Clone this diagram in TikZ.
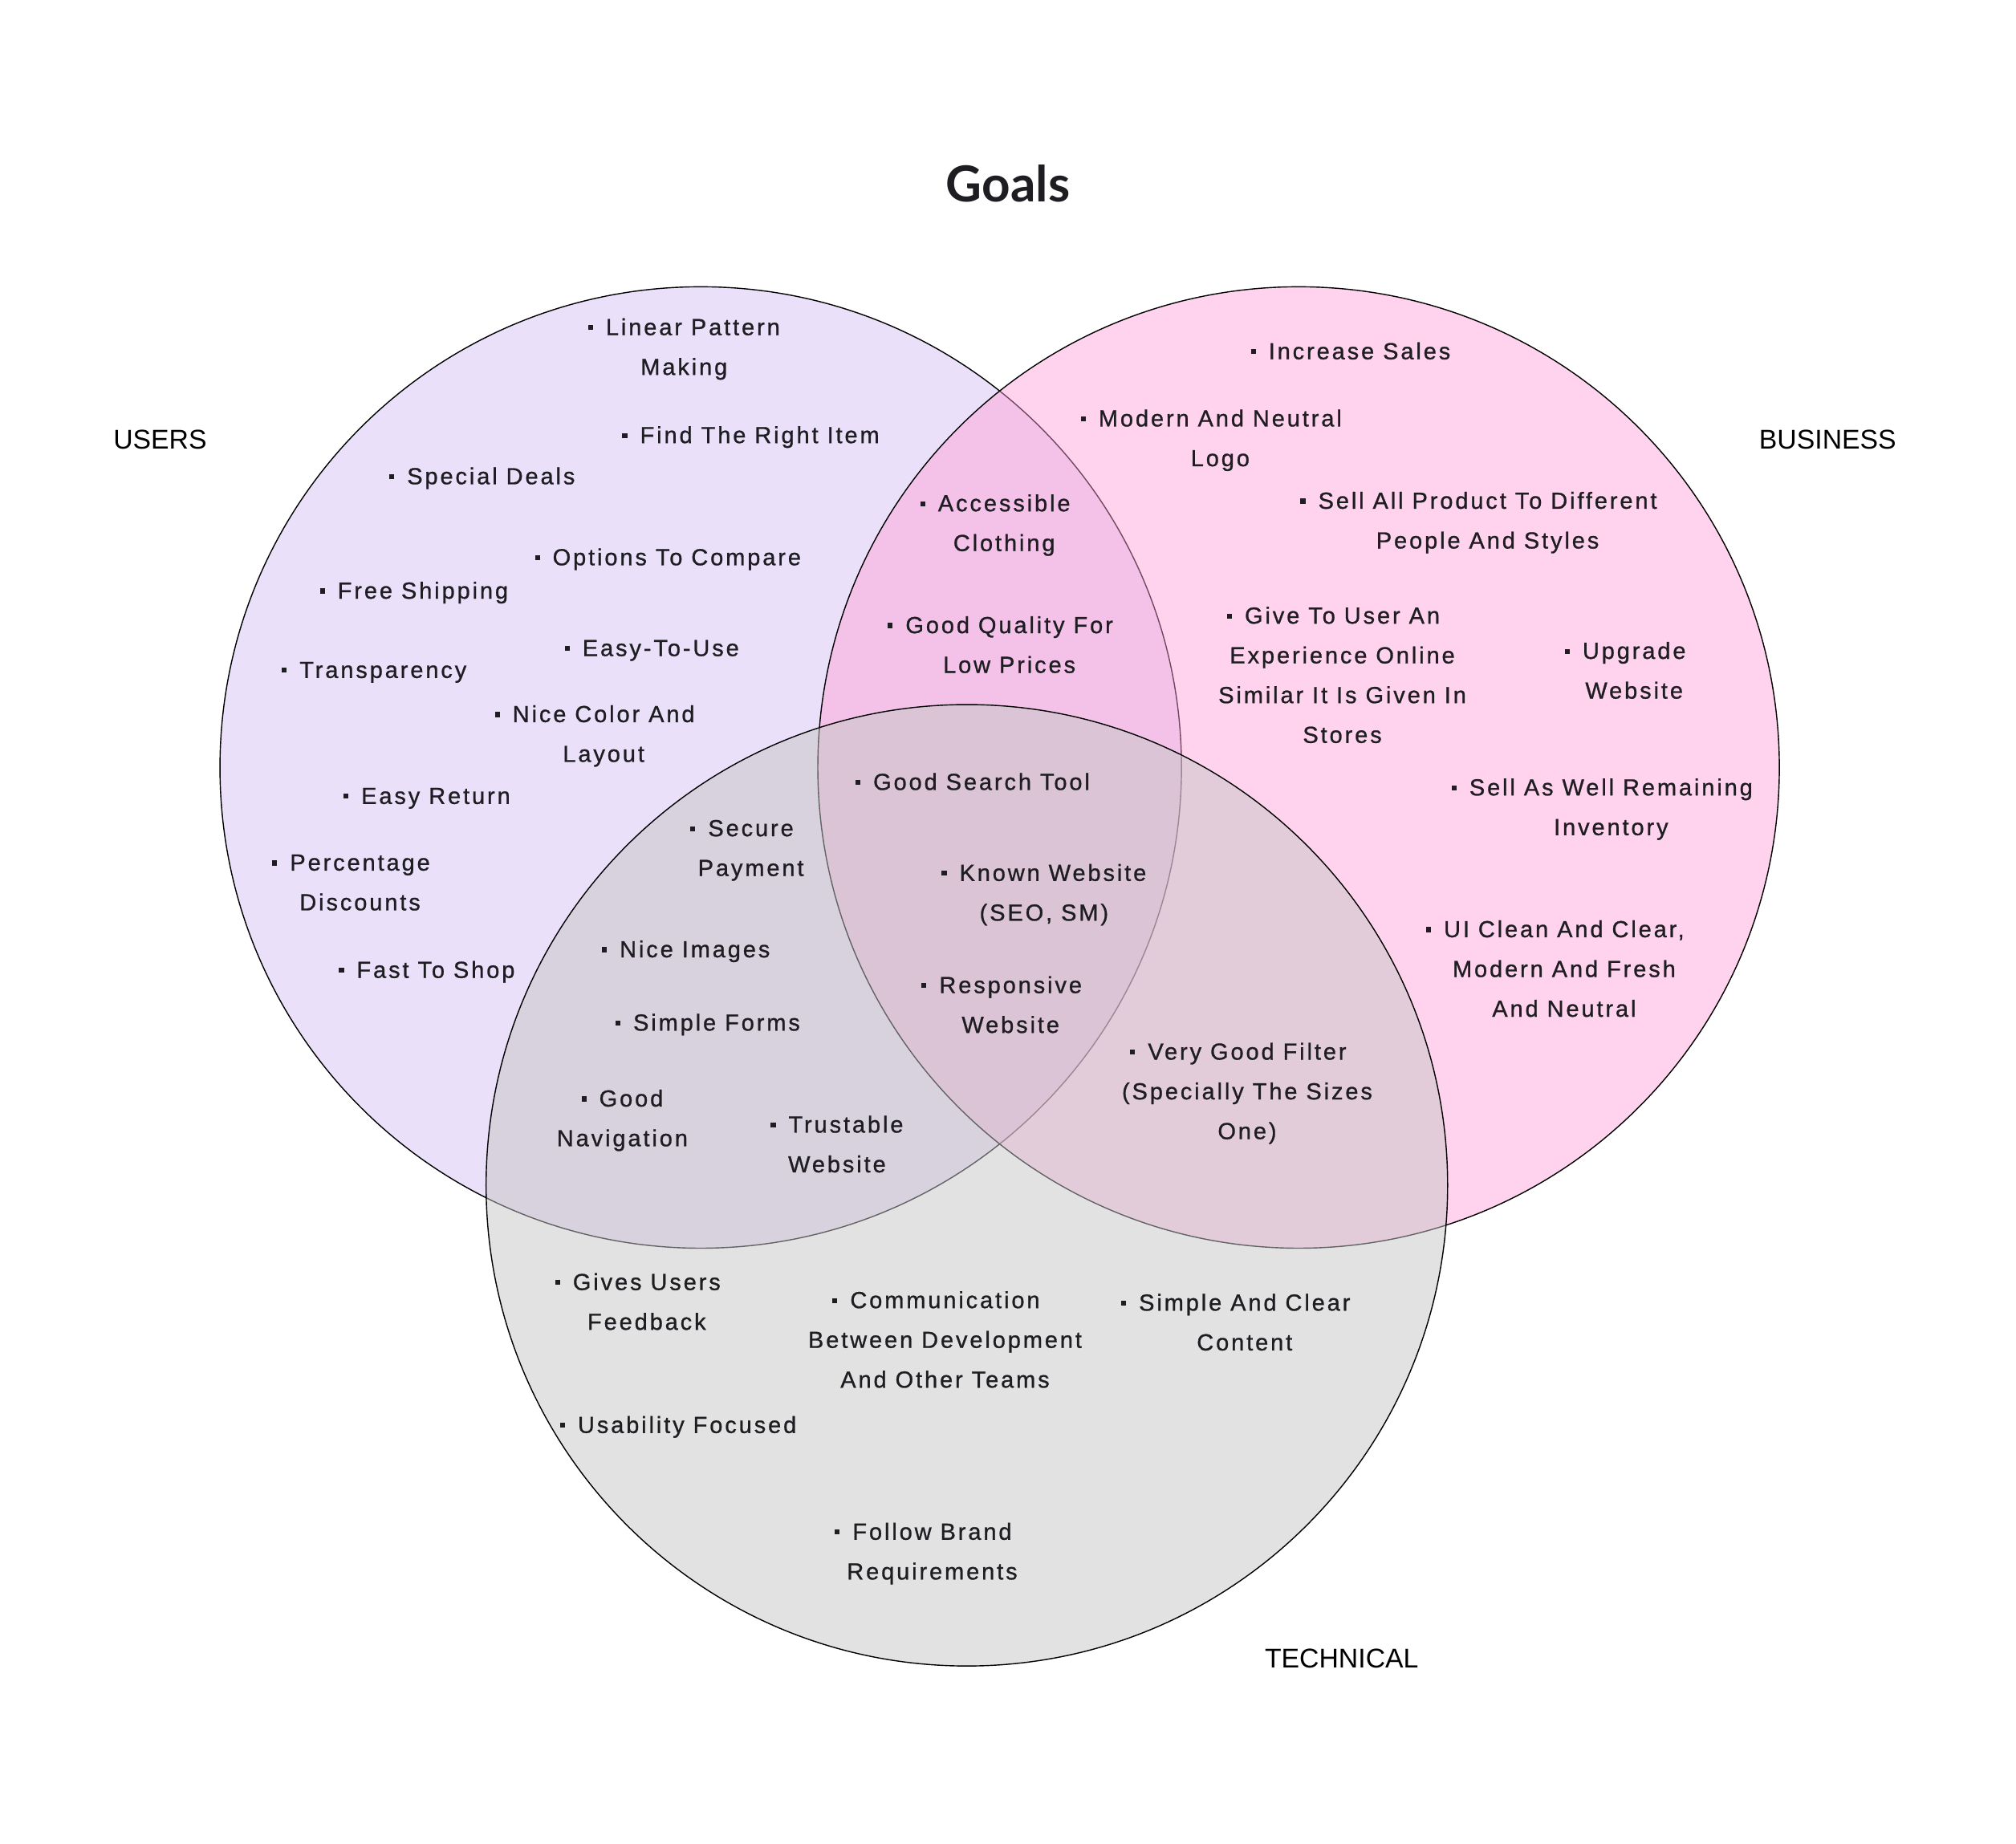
\documentclass[tikz,border=0pt]{standalone}
\usepackage{fontspec}
\setmainfont{Liberation Sans}
\newfontfamily\goalfont[LetterSpace=10,FakeBold=0.9]{Liberation Sans}
\newfontfamily\titlefont{Lato}
\definecolor{usersfill}{HTML}{EBE0FA}
\definecolor{businessfill}{HTML}{FF9ED6}
\definecolor{techfill}{HTML}{C6C6C6}
\definecolor{ink}{HTML}{1E1D22}
\newcommand{\bsq}{\rule[0.22em]{2.2pt}{2.2pt}\hspace{0.55em}}
\newcommand{\hbsq}{\llap{\bsq}}

\begin{document}
\begin{tikzpicture}[
                x=0.02cm, y=-0.02cm,
                set/.style={circle,draw=black,line width=0.5pt,minimum size=14.96cm,inner sep=0pt},
                goal/.style={align=center,text=ink,inner sep=0pt,font=\goalfont\fontsize{10.3}{17.6}\selectfont},
                setname/.style={text=black,inner sep=0pt,font=\fontsize{12}{14}\selectfont}
            ]

            \useasboundingbox (0,0) rectangle (1568,1434);

            \node[set,fill=usersfill] (users) at (545,597) {};
            \node[set,fill=businessfill,fill opacity=0.45] (business) at (1010,597) {};
            \node[set,fill=techfill,fill opacity=0.5] (technical) at (752,922) {};

            \node[font=\titlefont\bfseries\fontsize{22}{26}\selectfont,text=ink] (title) at (784,143) {Goals};
            \node[setname] (userslabel) at (124.5,342) {USERS};
            \node[setname] (businesslabel) at (1421.5,342) {BUSINESS};
            \node[setname] (techlabel) at (1043.5,1290) {TECHNICAL};

            \node[goal] (u1) at (532,271.5) {\bsq Linear Pattern\\Making};
            \node[goal] (u2) at (584,340) {\bsq Find The Right Item};
            \node[goal] (u3) at (375,372) {\bsq Special Deals};
            \node[goal] (u4) at (519.5,435) {\bsq Options To Compare};
            \node[goal] (u5) at (322,461) {\bsq Free Shipping};
            \node[goal] (u6) at (507,506) {\bsq Easy-To-Use};
            \node[goal] (u7) at (291,523) {\bsq Transparency};
            \node[goal] (u8) at (469.5,572.5) {\hbsq Nice Color And\\Layout};
            \node[goal] (u9) at (332,621) {\bsq Easy Return};
            \node[goal] (u10) at (280,686.5) {\hbsq Percentage\\Discounts};
            \node[goal] (u11) at (332,756) {\bsq Fast To Shop};

            \node[goal] (ut1) at (584,661.5) {\hbsq Secure\\Payment};
            \node[goal] (ut2) at (533.5,740) {\bsq Nice Images};
            \node[goal] (ut3) at (550.5,797) {\bsq Simple Forms};
            \node[goal] (ut4) at (484,871.5) {\bsq Good\\Navigation};
            \node[goal] (ut5) at (651,890) {\bsq Trustable\\Website};

            \node[goal] (ub1) at (781,408.5) {\hbsq Accessible\\Clothing};
            \node[goal] (ub2) at (785,501.5) {\hbsq Good Quality For\\Low Prices};

            \node[goal] (all1) at (756.5,608) {\bsq Good Search Tool};
            \node[goal] (all2) at (812,696) {\bsq Known Website\\(SEO, SM)};
            \node[goal] (all3) at (786,781.5) {\hbsq Responsive\\Website};

            \node[goal] (b1) at (1050.5,273) {\bsq Increase Sales};
            \node[goal] (b2) at (949,342.5) {\hbsq Modern And Neutral\\Logo};
            \node[goal] (b3) at (1157,406.5) {\hbsq Sell All Product To Different\\People And Styles};
            \node[goal] (b4) at (1044,525) {\hbsq Give To User An\\Experience Online\\Similar It Is Given In\\Stores};
            \node[goal] (b5) at (1271,521.5) {\hbsq Upgrade\\Website};
            \node[goal] (b6) at (1253,629.5) {\hbsq Sell As Well Remaining\\Inventory};
            \node[goal] (b7) at (1216.5,753.5) {\hbsq UI Clean And Clear,\\Modern And Fresh\\And Neutral};

            \node[goal] (bt1) at (970,850.5) {\hbsq Very Good Filter\\(Specially The Sizes\\One)};

            \node[goal] (t1) at (503,1012.5) {\hbsq Gives Users\\Feedback};
            \node[goal] (t2) at (735,1042) {\hbsq Communication\\Between Development\\And Other Teams};
            \node[goal] (t3) at (968,1028.5) {\hbsq Simple And Clear\\Content};
            \node[goal] (t4) at (527.5,1110) {\bsq Usability Focused};
            \node[goal] (t5) at (725,1208.5) {\hbsq Follow Brand\\Requirements};

        \end{tikzpicture}
\end{document}
